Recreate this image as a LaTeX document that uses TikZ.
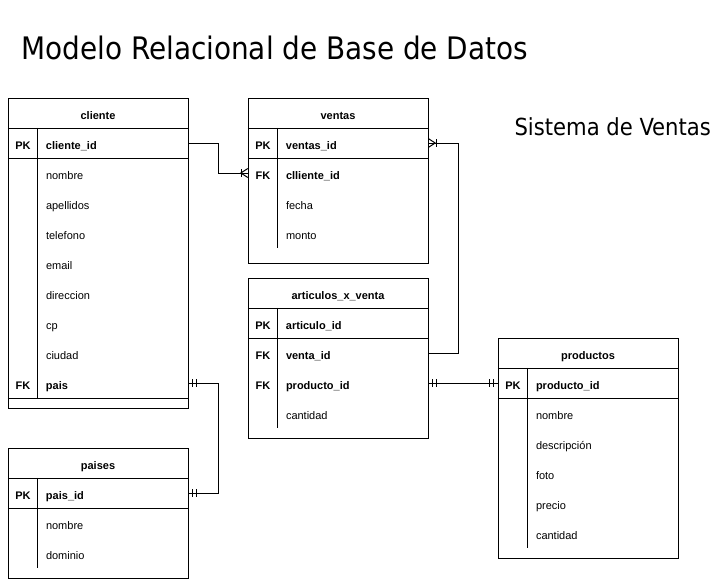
\documentclass[tikz,border=0pt]{standalone}
\usepackage{fontspec}
\setmainfont{Liberation Sans}
\newfontfamily\titlefont{DejaVu Sans Condensed}
\usepackage{tikz}
\usetikzlibrary{positioning}

\newcommand{\keycol}[1]{\makebox[30pt][c]{#1}\hspace{8pt}}

\begin{document}
\begin{tikzpicture}[x=1pt,y=-1pt]

\tikzstyle{tbl} = [draw=black, line width=1pt, minimum width=180pt, inner sep=0pt]
\tikzstyle{head} = [minimum width=180pt, minimum height=30pt, text height=13pt, text depth=1pt, inner sep=0pt, font=\fontsize{11}{13}\selectfont\bfseries]
\tikzstyle{row} = [minimum width=180pt, minimum height=30pt, text width=180pt, text height=13pt, text depth=1pt, align=left, inner sep=0pt, font=\fontsize{11}{13}\selectfont]
\tikzstyle{keyrow} = [row, font=\fontsize{11}{13}\selectfont\bfseries]
\tikzstyle{rule} = [line width=1pt]
\tikzstyle{edge} = [line width=1pt]

\useasboundingbox (0,0) rectangle (727,587);

\node[anchor=base west, font=\titlefont\fontsize{31}{34}\selectfont] (title) at (18,59) {Modelo Relacional de Base de Datos};
\node[anchor=base west, font=\titlefont\fontsize{23.5}{26}\selectfont] (subtitle) at (511,135) {Sistema de Ventas};

%------------------------------------------------------------
	\node[tbl, minimum height=310pt] (cliente) at (98,253) {};
	\node[head] (cl_head) at (98,113) {cliente};
	\node[keyrow] (cl_pk) at (98,143) {\keycol{PK}cliente\_id};
	\node[row] (cl_nombre) at (98,173) {\keycol{}nombre};
	\node[row] (cl_apellidos) at (98,203) {\keycol{}apellidos};
	\node[row] (cl_telefono) at (98,233) {\keycol{}telefono};
	\node[row] (cl_email) at (98,263) {\keycol{}email};
	\node[row] (cl_direccion) at (98,293) {\keycol{}direccion};
	\node[row] (cl_cp) at (98,323) {\keycol{}cp};
	\node[row] (cl_ciudad) at (98,353) {\keycol{}ciudad};
	\node[keyrow] (cl_pais) at (98,383) {\keycol{FK}pais};

	\draw[rule] (cl_head.south west) -- (cl_head.south east);
	\draw[rule] (cl_pk.south west) -- (cl_pk.south east);
	\draw[rule] (cl_pais.south west) -- (cl_pais.south east);
	\draw[rule] ([xshift=30]cl_pk.north west) -- ([xshift=30]cl_pais.south west);

%------------------------------------------------------------
	\node[tbl, minimum height=165pt] (ventas) at (338,180.5) {};
	\node[head] (ve_head) at (338,113) {ventas};
	\node[keyrow] (ve_pk) at (338,143) {\keycol{PK}ventas\_id};
	\node[keyrow] (ve_fk) at (338,173) {\keycol{FK}clliente\_id};
	\node[row] (ve_fecha) at (338,203) {\keycol{}fecha};
	\node[row] (ve_monto) at (338,233) {\keycol{}monto};

	\draw[rule] (ve_head.south west) -- (ve_head.south east);
	\draw[rule] (ve_pk.south west) -- (ve_pk.south east);
	\draw[rule] ([xshift=30]ve_pk.north west) -- ([xshift=30]ve_monto.south west);

%------------------------------------------------------------
	\node[tbl, minimum height=160pt] (articulos) at (338,358) {};
	\node[head] (ar_head) at (338,293) {articulos\_x\_venta};
	\node[keyrow] (ar_pk) at (338,323) {\keycol{PK}articulo\_id};
	\node[keyrow] (ar_venta) at (338,353) {\keycol{FK}venta\_id};
	\node[keyrow] (ar_producto) at (338,383) {\keycol{FK}producto\_id};
	\node[row] (ar_cantidad) at (338,413) {\keycol{}cantidad};

	\draw[rule] (ar_head.south west) -- (ar_head.south east);
	\draw[rule] (ar_pk.south west) -- (ar_pk.south east);
	\draw[rule] ([xshift=30]ar_pk.north west) -- ([xshift=30]ar_cantidad.south west);

%------------------------------------------------------------
	\node[tbl, minimum height=220pt] (productos) at (588,448) {};
	\node[head] (pr_head) at (588,353) {productos};
	\node[keyrow] (pr_pk) at (588,383) {\keycol{PK}producto\_id};
	\node[row] (pr_nombre) at (588,413) {\keycol{}nombre};
	\node[row] (pr_descripcion) at (588,443) {\keycol{}descripción};
	\node[row] (pr_foto) at (588,473) {\keycol{}foto};
	\node[row] (pr_precio) at (588,503) {\keycol{}precio};
	\node[row] (pr_cantidad) at (588,533) {\keycol{}cantidad};

	\draw[rule] (pr_head.south west) -- (pr_head.south east);
	\draw[rule] (pr_pk.south west) -- (pr_pk.south east);
	\draw[rule] ([xshift=30]pr_pk.north west) -- ([xshift=30]pr_cantidad.south west);

%------------------------------------------------------------
	\node[tbl, minimum height=130pt] (paises) at (98,513) {};
	\node[head] (pa_head) at (98,463) {paises};
	\node[keyrow] (pa_pk) at (98,493) {\keycol{PK}pais\_id};
	\node[row] (pa_nombre) at (98,523) {\keycol{}nombre};
	\node[row] (pa_dominio) at (98,553) {\keycol{}dominio};

	\draw[rule] (pa_head.south west) -- (pa_head.south east);
	\draw[rule] (pa_pk.south west) -- (pa_pk.south east);
	\draw[rule] ([xshift=30]pa_pk.north west) -- ([xshift=30]pa_dominio.south west);

%------------------------------------------------------------
	% cliente -> ventas (one or many)
	\draw[edge] (cl_pk.east) -- ++(30,0) |- (ve_fk.west);
	\draw[edge] ([xshift=-6]ve_fk.west) +(0,-4) -- +(0,4);
	\draw[edge] (ve_fk.west) +(0,-4.5) -- +(-7,0) -- +(0,4.5);

	% ventas -> articulos_x_venta (one or many)
	\draw[edge] (ve_pk.east) -- ++(30,0) |- (ar_venta.east);
	\draw[edge] ([xshift=8]ve_pk.east) +(0,-4) -- +(0,4);
	\draw[edge] (ve_pk.east) +(0,-4.5) -- +(7,0) -- +(0,4.5);

	% cliente -> paises (one and only one)
	\draw[edge] (cl_pais.east) -- ++(30,0) |- (pa_pk.east);
	\draw[edge] ([xshift=4]cl_pais.east) +(0,-4) -- +(0,4);
	\draw[edge] ([xshift=8]cl_pais.east) +(0,-4) -- +(0,4);
	\draw[edge] ([xshift=4]pa_pk.east) +(0,-4) -- +(0,4);
	\draw[edge] ([xshift=8]pa_pk.east) +(0,-4) -- +(0,4);

	% articulos_x_venta -> productos (one and only one)
	\draw[edge] (ar_producto.east) -- (pr_pk.west);
	\draw[edge] ([xshift=4]ar_producto.east) +(0,-4) -- +(0,4);
	\draw[edge] ([xshift=8]ar_producto.east) +(0,-4) -- +(0,4);
	\draw[edge] ([xshift=-4]pr_pk.west) +(0,-4) -- +(0,4);
	\draw[edge] ([xshift=-8]pr_pk.west) +(0,-4) -- +(0,4);

\end{tikzpicture}
\end{document}
